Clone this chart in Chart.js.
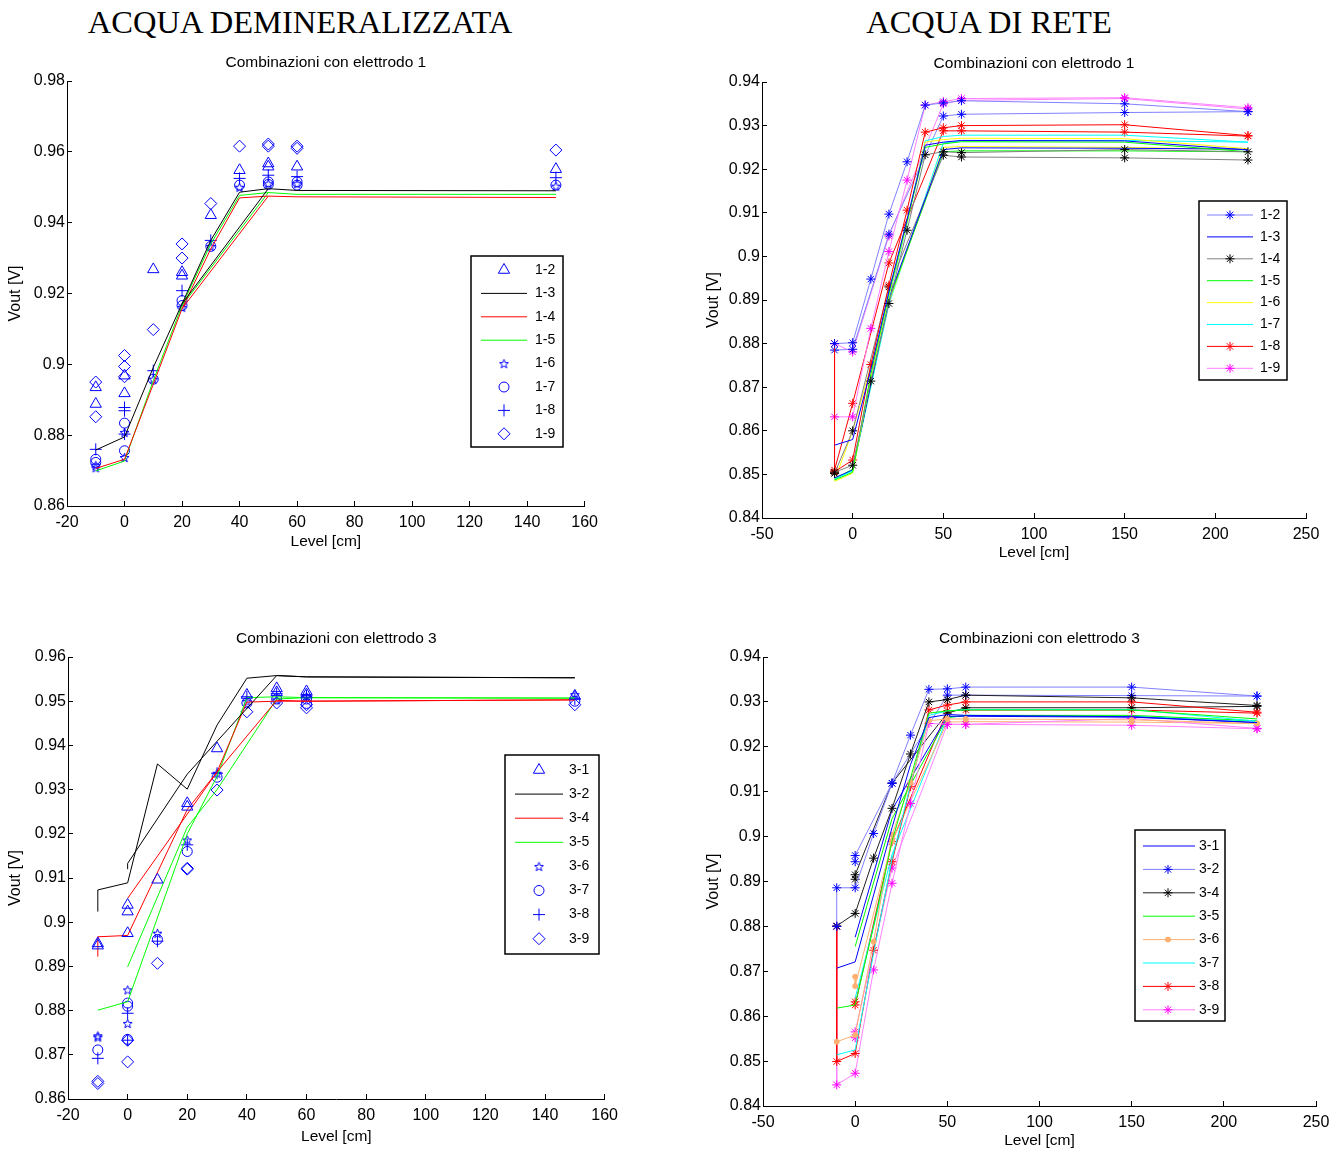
<!doctype html>
<html lang="it">
<head>
<meta charset="UTF-8">
<title>Vout vs Level - acqua demineralizzata / acqua di rete</title>
<script src="https://cdn.jsdelivr.net/npm/chart.js"></script>
<style>
  body { margin: 0; background: #fff; width: 1344px; height: 1151px; position: relative; overflow: hidden; }
  .head { position: absolute; top: 3px; line-height: 38px; font-family: 'Liberation Serif', serif; font-size: 32.5px; text-align: center; color: #000; }
  canvas { position: absolute; }
</style>
</head>
<body>
<div class="head" style="left:0;width:600px">ACQUA DEMINERALIZZATA</div>
<div class="head" style="left:689px;width:600px">ACQUA DI RETE</div>

<canvas id="c1" style="left:0;top:48px" width="610" height="510"></canvas>
<canvas id="c2" style="left:690px;top:48px" width="654" height="520"></canvas>
<canvas id="c3" style="left:0;top:622px" width="630" height="528"></canvas>
<canvas id="c4" style="left:690px;top:622px" width="654" height="530"></canvas>

<script>
// ---------- acqua demineralizzata, elettrodo 1 ----------
const lev1 = [-10, 0, 10, 20, 30, 40, 50, 60, 150];
const lev1b = [20, 50];
const v13 = [0.8758, 0.8795, 0.8991, 0.9171, 0.9350, 0.9486, 0.9496, 0.9491, 0.9490];
const v13b = [0.9171, 0.9496];
const v14 = [0.8706, 0.8732, 0.8944, 0.9157, 0.9326, 0.9470, 0.9475, 0.9473, 0.9471];
const v14b = [0.9157, 0.9475];
const v15 = [0.8699, 0.8727, 0.8954, 0.9166, 0.9340, 0.9477, 0.9485, 0.9480, 0.9480];
const v15b = [0.9166, 0.9485];

const x12 = [-10, -10, 0, 0, 10, 20, 20, 30, 40, 50, 50, 60, 150];
const v12 = [0.8935, 0.8888, 0.8968, 0.8918, 0.9268, 0.9260, 0.9250, 0.9421, 0.9548, 0.9567, 0.9558, 0.9558, 0.9551];
const x16 = [-10, -10, 0, 0, 10, 20, 30, 40, 50, 60, 150];
const v16 = [0.8708, 0.8715, 0.8808, 0.8737, 0.8958, 0.9161, 0.9333, 0.9500, 0.9510, 0.9510, 0.9503];
const x17 = [-10, -10, 0, 0, 10, 20, 20, 30, 40, 50, 50, 60, 60, 150];
const v17 = [0.8732, 0.8723, 0.8834, 0.8756, 0.8958, 0.9180, 0.9166, 0.9333, 0.9506, 0.9515, 0.9508, 0.9515, 0.9506, 0.9506];
const x18 = [-10, 0, 0, 0, 10, 20, 30, 40, 50, 60, 150];
const v18 = [0.8760, 0.8878, 0.8869, 0.8803, 0.8982, 0.9208, 0.9350, 0.9525, 0.9534, 0.9530, 0.9527];
const x19 = [-10, -10, 0, 0, 0, 10, 20, 20, 30, 40, 50, 50, 60, 60, 150];
const v19 = [0.8950, 0.8852, 0.9025, 0.8994, 0.8965, 0.9098, 0.9340, 0.9300, 0.9454, 0.9616, 0.9622, 0.9616, 0.9616, 0.9610, 0.9605];

// ---------- acqua demineralizzata, elettrodo 3 ----------
const x31 = [-10, -10, 0, 0, 0, 10, 20, 20, 30, 40, 50, 50, 60, 60, 150];
const v31 = [0.8952, 0.8947, 0.9039, 0.9024, 0.8975, 0.9096, 0.9269, 0.9261, 0.9393, 0.9514, 0.9529, 0.9520, 0.9522, 0.9515, 0.9512];
const x32 = [-10, -10, 0, 10, 20, 30, 40, 50, 60, 150];
const v32 = [0.9024, 0.9073, 0.9089, 0.9358, 0.9301, 0.9446, 0.9552, 0.9558, 0.9555, 0.9553];
const x32b = [0, 0, 20, 50, 60, 150];
const v32b = [0.9120, 0.9133, 0.9335, 0.9558, 0.9555, 0.9553];
const x34 = [-10, -10, 0, 20, 30, 40, 50, 60, 150];
const v34 = [0.8922, 0.8967, 0.8970, 0.9255, 0.9340, 0.9498, 0.9500, 0.9500, 0.9503];
const x34b = [0, 30, 50, 60, 150];
const v34b = [0.9054, 0.9340, 0.9502, 0.9500, 0.9503];
const x35 = [-10, 0, 20, 30, 40, 50, 60, 150];
const v35 = [0.8801, 0.8820, 0.9200, 0.9330, 0.9508, 0.9510, 0.9508, 0.9507];
const x35b = [0, 20, 30, 50, 60, 150];
const v35b = [0.8899, 0.9215, 0.9300, 0.9505, 0.9508, 0.9507];
const x36 = [-10, -10, 0, 0, 10, 20, 30, 40, 50, 60, 150];
const v36 = [0.8743, 0.8740, 0.8847, 0.8771, 0.8975, 0.9186, 0.9337, 0.9500, 0.9503, 0.9510, 0.9515];
const x37 = [-10, 0, 0, 0, 10, 20, 30, 40, 50, 60, 60, 150];
const v37 = [0.8711, 0.8817, 0.8810, 0.8735, 0.8961, 0.9160, 0.9328, 0.9496, 0.9505, 0.9505, 0.9495, 0.9500];
const x38 = [-10, 0, 0, 10, 20, 30, 40, 50, 60, 150];
const v38 = [0.8692, 0.8794, 0.8733, 0.8957, 0.9175, 0.9337, 0.9510, 0.9517, 0.9512, 0.9505];
const x39 = [-10, -10, 0, 0, 10, 20, 20, 30, 40, 50, 60, 60, 150];
const v39 = [0.8635, 0.8640, 0.8684, 0.8733, 0.8907, 0.9122, 0.9120, 0.9299, 0.9476, 0.9496, 0.9485, 0.9492, 0.9492];

// ---------- acqua di rete (two runs per combination) ----------
const levA = [-10, 0, 10, 20, 30, 40, 50, 60, 150, 218];
const levB = [-10, 0, 20, 50, 60, 150, 218];
const levA2 = [-10, -10, 0, 10, 20, 30, 40, 50, 60, 150, 218];
const levB0 = [0, 20, 50, 60, 150, 218];
const levB00 = [0, 0, 20, 50, 60, 150, 218];

const r12a = [0.8800, 0.8802, 0.8948, 0.9097, 0.9217, 0.9347, 0.9352, 0.9357, 0.9350, 0.9332];
const r12b = [0.8785, 0.8787, 0.9051, 0.9322, 0.9326, 0.9330, 0.9332];
const r13a = [0.8567, 0.8580, 0.8740, 0.8920, 0.9085, 0.9255, 0.9262, 0.9266, 0.9265, 0.9244];
const r13b = [0.8492, 0.8510, 0.8905, 0.9245, 0.9249, 0.9248, 0.9246];
const r14a = [0.8505, 0.8521, 0.8714, 0.8892, 0.9060, 0.9233, 0.9240, 0.9238, 0.9245, 0.9240];
const r14b = [0.8502, 0.8600, 0.8930, 0.9232, 0.9228, 0.9226, 0.9221];
const r15a = [0.8487, 0.8505, 0.8730, 0.8915, 0.9080, 0.9250, 0.9258, 0.9263, 0.9262, 0.9240];
const r15b = [0.8490, 0.8512, 0.8900, 0.9240, 0.9242, 0.9242, 0.9240];
const r16a = [0.8484, 0.8503, 0.8722, 0.8910, 0.9078, 0.9262, 0.9268, 0.9271, 0.9270, 0.9247];
const r16b = [0.8486, 0.8600, 0.8895, 0.9250, 0.9252, 0.9250, 0.9245];
const r17a = [0.8489, 0.8508, 0.8720, 0.8905, 0.9075, 0.9265, 0.9275, 0.9278, 0.9278, 0.9262];
const r17b = [0.8489, 0.8510, 0.8890, 0.9260, 0.9265, 0.9266, 0.9262];
const r18a = [0.8800, 0.8506, 0.8533, 0.8752, 0.8934, 0.9106, 0.9285, 0.9295, 0.9300, 0.9302, 0.9277];
const r18b = [0.8510, 0.8663, 0.8985, 0.9288, 0.9288, 0.9285, 0.9276];
const r19a = [0.8632, 0.8632, 0.8835, 0.9011, 0.9175, 0.9347, 0.9355, 0.9362, 0.9364, 0.9341];
const r19b = [0.8800, 0.8781, 0.9047, 0.9350, 0.9358, 0.9362, 0.9338];

const r31a = [0.8707, 0.8721, 0.8870, 0.9020, 0.9160, 0.9265, 0.9272, 0.9270, 0.9267, 0.9254];
const r31b = [0.8776, 0.9060, 0.9268, 0.9268, 0.9266, 0.9254];
const r32a = [0.8800, 0.8886, 0.8886, 0.9007, 0.9119, 0.9226, 0.9328, 0.9329, 0.9333, 0.9333, 0.9313];
const r32b = [0.8944, 0.8958, 0.9119, 0.9315, 0.9315, 0.9314, 0.9313];
const r34a = [0.8801, 0.8829, 0.8952, 0.9063, 0.9184, 0.9300, 0.9305, 0.9315, 0.9309, 0.9292];
const r34b = [0.8905, 0.8915, 0.9119, 0.9275, 0.9287, 0.9287, 0.9290];
const r35a = [0.8618, 0.8625, 0.8800, 0.8990, 0.9130, 0.9275, 0.9280, 0.9282, 0.9282, 0.9262];
const r35b = [0.8755, 0.9040, 0.9265, 0.9270, 0.9270, 0.9258];
const r36a = [0.8543, 0.8558, 0.8766, 0.9004, 0.9120, 0.9258, 0.9262, 0.9262, 0.9260, 0.9252];
const r36b = [0.8688, 0.8667, 0.8990, 0.9255, 0.9256, 0.9255, 0.9252];
const r37a = [0.8514, 0.8525, 0.8740, 0.8950, 0.9115, 0.9270, 0.9280, 0.9283, 0.9283, 0.9257];
const r37b = [0.8640, 0.8960, 0.9265, 0.9270, 0.9268, 0.9257];
const r38a = [0.8800, 0.8499, 0.8517, 0.8747, 0.8944, 0.9111, 0.9282, 0.9293, 0.9300, 0.9300, 0.9277];
const r38b = [0.8632, 0.8625, 0.8989, 0.9280, 0.9282, 0.9282, 0.9275];
const r39a = [0.8800, 0.8447, 0.8473, 0.8703, 0.8896, 0.9074, 0.9252, 0.9250, 0.9250, 0.9263, 0.9241];
const r39b = [0.8552, 0.8565, 0.8930, 0.9250, 0.9250, 0.9248, 0.9240];

// ---------- helpers ----------
const FONT = 'Liberation Sans';

function pts(xs, ys) {
    return xs.map((x, i) => ({ x: x, y: ys[i] }));
}

function pentagram(size, color) {
    const c = document.createElement('canvas');
    c.width = size; c.height = size;
    const g = c.getContext('2d');
    const cx = size / 2, cy = size / 2 + 0.5, ro = size / 2 - 0.8, ri = ro * 0.42;
    g.beginPath();
    for (let k = 0; k < 10; k++) {
        const r = k % 2 ? ri : ro;
        const a = -Math.PI / 2 + k * Math.PI / 5;
        const px = cx + r * Math.cos(a), py = cy + r * Math.sin(a);
        if (k === 0) g.moveTo(px, py); else g.lineTo(px, py);
    }
    g.closePath();
    g.strokeStyle = color;
    g.lineWidth = 1;
    g.stroke();
    return c;
}

// blue hollow markers only (MATLAB style 'b^', 'bo', ...)
function marks(label, xs, ys, style, r) {
    return {
        label: label, data: pts(xs, ys), showLine: false,
        pointStyle: style, pointRadius: r, pointHoverRadius: r,
        borderColor: '#0000ff', pointBorderColor: '#0000ff',
        pointBackgroundColor: 'rgba(0,0,0,0)', pointBorderWidth: 1
    };
}

function line(label, xs, ys, color, mark) {
    const d = {
        label: label, data: pts(xs, ys), borderColor: color, borderWidth: 1,
        tension: 0, pointRadius: 0, pointHoverRadius: 0
    };
    if (mark) {
        d.pointStyle = mark.style;
        d.pointRadius = mark.r;
        d.pointHoverRadius = mark.r;
        d.pointBorderColor = mark.color;
        d.pointBackgroundColor = mark.fill || mark.color;
        d.pointBorderWidth = 1;
    }
    return d;
}

// legend drawn as a framed box inside the axes, like MATLAB's
const boxLegend = {
    id: 'boxLegend',
    afterDraw(chart, args, o) {
        const ctx = chart.ctx;
        ctx.save();
        ctx.fillStyle = '#fff';
        ctx.fillRect(o.x, o.y, o.w, o.h);
        ctx.strokeStyle = '#000';
        ctx.lineWidth = 1.5;
        ctx.strokeRect(o.x, o.y, o.w, o.h);
        ctx.font = '14px "' + FONT + '"';
        ctx.textBaseline = 'middle';
        let i = 0;
        chart.data.datasets.forEach(ds => {
            if (!ds.label) return;
            const y = o.y + o.first + i * o.row;
            if (ds.showLine !== false) {
                ctx.strokeStyle = ds.borderColor;
                ctx.lineWidth = ds.borderWidth || 1;
                ctx.beginPath();
                ctx.moveTo(o.x + o.lx1, y);
                ctx.lineTo(o.x + o.lx2, y);
                ctx.stroke();
            }
            if (ds.pointRadius > 0) {
                ctx.strokeStyle = ds.pointBorderColor;
                ctx.fillStyle = ds.pointBackgroundColor;
                ctx.lineWidth = 1;
                Chart.helpers.drawPoint(ctx, { pointStyle: ds.pointStyle, radius: ds.pointRadius, borderWidth: 1, rotation: 0 }, o.x + o.mx, y);
            }
            ctx.fillStyle = '#000';
            ctx.fillText(ds.label, o.x + o.tx, y);
            i++;
        });
        ctx.restore();
    }
};

function fmt(v) {
    return String(+v.toFixed(3));
}

function makeChart(id, datasets, c) {
    return new Chart(document.getElementById(id), {
        type: 'line',
        data: { datasets: datasets },
        plugins: [boxLegend],
        options: {
            responsive: false,
            animation: false,
            layout: { padding: { left: 0, top: 0, right: c.padRight, bottom: 0 } },
            scales: {
                x: {
                    type: 'linear', min: c.xMin, max: c.xMax,
                    afterFit: s => { s.height = c.xHeight; },
                    ticks: { stepSize: c.xStep, color: '#000', padding: 12, font: { family: FONT, size: 16 }, callback: v => fmt(v) },
                    grid: { drawOnChartArea: false, tickLength: -5, tickColor: '#000' },
                    border: { color: '#000', width: 1 },
                    title: { display: true, text: 'Level [cm]', color: '#000', font: { family: FONT, size: 15.5 }, padding: { top: 0, bottom: c.xTitlePad } }
                },
                y: {
                    type: 'linear', min: c.yMin, max: c.yMax,
                    afterFit: s => { s.width = c.yWidth; },
                    ticks: { stepSize: c.yStep, color: '#000', padding: 7, font: { family: FONT, size: 16 }, callback: v => fmt(v) },
                    grid: { drawOnChartArea: false, tickLength: -5, tickColor: '#000' },
                    border: { color: '#000', width: 1 },
                    title: { display: true, text: 'Vout [V]', color: '#000', font: { family: FONT, size: 16 }, padding: { top: c.yTitlePad, bottom: 0 } }
                }
            },
            plugins: {
                legend: { display: false },
                tooltip: { enabled: false },
                title: {
                    display: true, text: c.title, fullSize: false, color: '#000',
                    font: { family: FONT, size: 15.5, weight: 'normal' },
                    padding: { top: c.titleTop, bottom: c.titleBottom }
                },
                boxLegend: c.legend
            }
        }
    });
}

const penta = pentagram(11, '#0000ff');

// ---------- top left ----------
makeChart('c1', [
    marks('1-2', x12, v12, 'triangle', 6.5),
    line('1-3', lev1, v13, '#000000'),
    line('', lev1b, v13b, '#000000'),
    line('1-4', lev1, v14, '#ff0000'),
    line('', lev1b, v14b, '#ff0000'),
    line('1-5', lev1, v15, '#00ff00'),
    line('', lev1b, v15b, '#00ff00'),
    marks('1-6', x16, v16, penta, 5),
    marks('1-7', x17, v17, 'circle', 5),
    marks('1-8', x18, v18, 'cross', 6),
    marks('1-9', x19, v19, 'rectRot', 6)
], {
    xMin: -20, xMax: 160, xStep: 20, yMin: 0.86, yMax: 0.98, yStep: 0.02,
    yWidth: 67, xHeight: 52, padRight: 24, yTitlePad: 6, xTitlePad: 6.5,
    title: 'Combinazioni con elettrodo 1', titleTop: 5, titleBottom: 9.4,
    legend: { x: 471, y: 208, w: 92, h: 191, first: 14, row: 23.4, lx1: 10, lx2: 56, mx: 33, tx: 64 }
});

// ---------- top right ----------
const star = (color, r) => ({ style: 'star', r: r || 4.5, color: color });
makeChart('c2', [
    line('1-2', levA, r12a, '#8080ff', star('#0000ff')),
    line('1-3', levA, r13a, '#0000ff'),
    line('1-4', levA, r14a, '#808080', star('#000000')),
    line('1-5', levA, r15a, '#00ff00'),
    line('1-6', levA, r16a, '#ffff00'),
    line('1-7', levA, r17a, '#00ffff'),
    line('1-8', levA2, r18a, '#ff0000', star('#ff0000')),
    line('1-9', levA, r19a, '#ff80ff', star('#ff00ff')),
    line('', levB, r12b, '#8080ff', star('#0000ff')),
    line('', levB, r13b, '#0000ff'),
    line('', levB, r14b, '#808080', star('#000000')),
    line('', levB, r15b, '#00ff00'),
    line('', levB, r16b, '#ffff00'),
    line('', levB, r17b, '#00ffff'),
    line('', levB, r18b, '#ff0000', star('#ff0000')),
    line('', levB, r19b, '#ff80ff', star('#ff00ff'))
], {
    xMin: -50, xMax: 250, xStep: 50, yMin: 0.84, yMax: 0.94, yStep: 0.01,
    yWidth: 72, xHeight: 50, padRight: 38, yTitlePad: 14, xTitlePad: 5.5,
    title: 'Combinazioni con elettrodo 1', titleTop: 6, titleBottom: 9.4,
    legend: { x: 509, y: 153, w: 88, h: 179, first: 14, row: 21.9, lx1: 8, lx2: 54, mx: 31, tx: 61 }
});

// ---------- bottom left ----------
makeChart('c3', [
    marks('3-1', x31, v31, 'triangle', 6.5),
    line('3-2', x32, v32, '#000000'),
    line('', x32b, v32b, '#000000'),
    line('3-4', x34, v34, '#ff0000'),
    line('', x34b, v34b, '#ff0000'),
    line('3-5', x35, v35, '#00ff00'),
    line('', x35b, v35b, '#00ff00'),
    marks('3-6', x36, v36, penta, 5),
    marks('3-7', x37, v37, 'circle', 5),
    marks('3-8', x38, v38, 'cross', 6),
    marks('3-9', x39, v39, 'rectRot', 6)
], {
    xMin: -20, xMax: 160, xStep: 20, yMin: 0.86, yMax: 0.96, yStep: 0.01,
    yWidth: 68, xHeight: 51, padRight: 22, yTitlePad: 6, xTitlePad: 3.5,
    title: 'Combinazioni con elettrodo 3', titleTop: 7, titleBottom: 9.4,
    legend: { x: 505, y: 133, w: 94, h: 199, first: 15, row: 24.1, lx1: 10, lx2: 58, mx: 34, tx: 64 }
});

// ---------- bottom right ----------
makeChart('c4', [
    line('3-1', levA, r31a, '#0000ff'),
    line('3-2', levA2, r32a, '#8080ff', star('#0000ff')),
    line('3-4', levA, r34a, '#202020', star('#000000')),
    line('3-5', levA, r35a, '#00ff00'),
    line('3-6', levA, r36a, '#ffb070', { style: 'circle', r: 2.5, color: '#ffb070' }),
    line('3-7', levA, r37a, '#00ffff'),
    line('3-8', levA2, r38a, '#ff0000', star('#ff0000')),
    line('3-9', levA2, r39a, '#ff80ff', star('#ff00ff')),
    line('', levB0, r31b, '#0000ff'),
    line('', levB00, r32b, '#8080ff', star('#0000ff')),
    line('', levB00, r34b, '#202020', star('#000000')),
    line('', levB0, r35b, '#00ff00'),
    line('', levB00, r36b, '#ffb070', { style: 'circle', r: 2.5, color: '#ffb070' }),
    line('', levB0, r37b, '#00ffff'),
    line('', levB00, r38b, '#ff0000', star('#ff0000')),
    line('', levB00, r39b, '#ff80ff', star('#ff00ff'))
], {
    xMin: -50, xMax: 250, xStep: 50, yMin: 0.84, yMax: 0.94, yStep: 0.01,
    yWidth: 73, xHeight: 46, padRight: 28, yTitlePad: 14, xTitlePad: 1.5,
    title: 'Combinazioni con elettrodo 3', titleTop: 7, titleBottom: 9.4,
    legend: { x: 445, y: 208, w: 90, h: 191, first: 16, row: 23.4, lx1: 8, lx2: 60, mx: 33, tx: 64 }
});
</script>
</body>
</html>
